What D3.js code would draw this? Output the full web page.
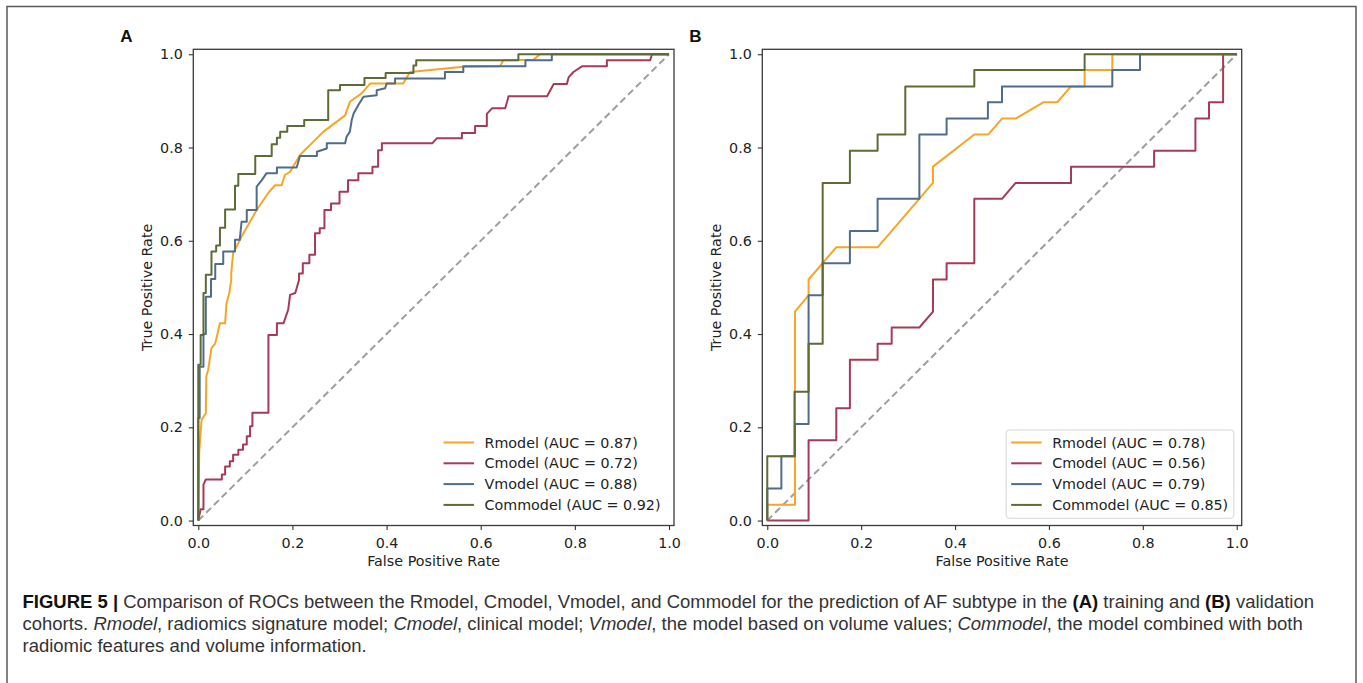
<!DOCTYPE html>
<html>
<head>
<meta charset="utf-8">
<script src="https://cdn.jsdelivr.net/npm/d3@7"></script>
<style>
  body { margin: 0; background: #fff; }
  svg { display: block; }
</style>
</head>
<body>
<div id="chart"></div>
<script>
const width = 1363, height = 683;

// ---- data: ROC corner points (fpr, tpr) ----
const modelNames = ["Rmodel", "Cmodel", "Vmodel", "Commodel"];
const modelColors = ["#f7a526", "#a63a58", "#4f6d8b", "#5d6b36"];
const aucTrain = [0.87, 0.72, 0.88, 0.92];
const aucValid = [0.78, 0.56, 0.79, 0.85];
const tickValues = [0, 0.2, 0.4, 0.6, 0.8, 1.0];

// (A) training cohort
const rTrainFpr = [0, 0.002, 0.007, 0.016, 0.017, 0.021, 0.028, 0.036, 0.046, 0.057, 0.06, 0.066, 0.07, 0.07, 0.074, 0.092, 0.124, 0.149, 0.163, 0.177, 0.184, 0.195, 0.216, 0.266, 0.312, 0.322, 0.347, 0.365, 0.435, 0.45, 0.563, 0.641, 0.648, 0.712, 0.726, 1];
const rTrainTpr = [0, 0.148, 0.216, 0.23, 0.309, 0.323, 0.37, 0.38, 0.423, 0.423, 0.466, 0.488, 0.516, 0.53, 0.573, 0.609, 0.666, 0.703, 0.719, 0.719, 0.741, 0.748, 0.784, 0.834, 0.869, 0.898, 0.916, 0.937, 0.937, 0.962, 0.973, 0.974, 0.987, 0.988, 1, 1];

const cTrainFpr = [0, 0.005, 0.011, 0.011, 0.016, 0.05, 0.05, 0.057, 0.057, 0.067, 0.067, 0.074, 0.074, 0.085, 0.085, 0.095, 0.095, 0.103, 0.103, 0.11, 0.11, 0.115, 0.115, 0.149, 0.149, 0.167, 0.167, 0.181, 0.191, 0.195, 0.206, 0.21, 0.214, 0.214, 0.222, 0.222, 0.236, 0.236, 0.248, 0.248, 0.258, 0.258, 0.268, 0.268, 0.282, 0.282, 0.3, 0.3, 0.318, 0.318, 0.34, 0.34, 0.37, 0.37, 0.382, 0.382, 0.39, 0.39, 0.497, 0.507, 0.56, 0.56, 0.588, 0.588, 0.613, 0.613, 0.624, 0.652, 0.656, 0.659, 0.741, 0.755, 0.783, 0.787, 0.797, 0.815, 0.868, 0.868, 0.96, 0.964, 1];
const cTrainTpr = [0, 0.024, 0.024, 0.077, 0.088, 0.088, 0.099, 0.099, 0.116, 0.116, 0.127, 0.127, 0.141, 0.141, 0.152, 0.152, 0.163, 0.163, 0.181, 0.181, 0.202, 0.202, 0.231, 0.231, 0.398, 0.398, 0.423, 0.423, 0.452, 0.484, 0.488, 0.502, 0.516, 0.53, 0.53, 0.552, 0.552, 0.57, 0.57, 0.616, 0.616, 0.627, 0.627, 0.666, 0.666, 0.68, 0.68, 0.705, 0.705, 0.73, 0.73, 0.745, 0.745, 0.759, 0.759, 0.794, 0.794, 0.809, 0.809, 0.82, 0.82, 0.831, 0.831, 0.846, 0.846, 0.872, 0.884, 0.884, 0.898, 0.91, 0.91, 0.936, 0.936, 0.951, 0.962, 0.974, 0.974, 0.987, 0.987, 1, 1];

const vTrainFpr = [0, 0, 0.003, 0.003, 0.011, 0.011, 0.016, 0.016, 0.027, 0.027, 0.036, 0.036, 0.053, 0.053, 0.078, 0.078, 0.088, 0.092, 0.103, 0.103, 0.124, 0.124, 0.135, 0.145, 0.167, 0.167, 0.209, 0.216, 0.252, 0.252, 0.273, 0.273, 0.312, 0.315, 0.322, 0.326, 0.33, 0.34, 0.351, 0.379, 0.379, 0.397, 0.4, 0.418, 0.418, 0.524, 0.524, 0.563, 0.563, 0.695, 0.695, 0.751, 0.751, 1];
const vTrainTpr = [0, 0.22, 0.22, 0.33, 0.33, 0.4, 0.4, 0.48, 0.48, 0.518, 0.518, 0.55, 0.55, 0.577, 0.577, 0.602, 0.602, 0.641, 0.641, 0.666, 0.666, 0.716, 0.73, 0.745, 0.745, 0.757, 0.757, 0.782, 0.782, 0.791, 0.798, 0.809, 0.809, 0.823, 0.834, 0.859, 0.873, 0.891, 0.909, 0.912, 0.923, 0.927, 0.937, 0.937, 0.948, 0.948, 0.962, 0.962, 0.974, 0.974, 0.987, 0.987, 1, 1];

const comTrainFpr = [0, 0, 0.005, 0.005, 0.011, 0.011, 0.016, 0.016, 0.028, 0.028, 0.038, 0.038, 0.046, 0.046, 0.057, 0.057, 0.078, 0.078, 0.085, 0.085, 0.121, 0.121, 0.156, 0.156, 0.167, 0.167, 0.174, 0.174, 0.189, 0.189, 0.225, 0.225, 0.276, 0.276, 0.301, 0.301, 0.353, 0.353, 0.398, 0.398, 0.457, 0.457, 0.463, 0.463, 0.68, 0.68, 1];
const comTrainTpr = [0, 0.334, 0.334, 0.398, 0.398, 0.488, 0.488, 0.527, 0.527, 0.577, 0.577, 0.59, 0.59, 0.628, 0.628, 0.667, 0.667, 0.718, 0.718, 0.743, 0.743, 0.782, 0.782, 0.807, 0.807, 0.821, 0.821, 0.834, 0.834, 0.846, 0.846, 0.859, 0.859, 0.923, 0.923, 0.934, 0.934, 0.949, 0.949, 0.96, 0.96, 0.976, 0.976, 0.987, 0.987, 1, 1];

// (B) validation cohort
const rValidFpr = [0, 0, 0.059, 0.059, 0.088, 0.088, 0.147, 0.235, 0.353, 0.353, 0.441, 0.471, 0.5, 0.529, 0.588, 0.618, 0.647, 0.676, 0.676, 0.735, 0.735, 1];
const rValidTpr = [0, 0.034, 0.034, 0.448, 0.483, 0.517, 0.586, 0.586, 0.724, 0.759, 0.828, 0.828, 0.862, 0.862, 0.897, 0.897, 0.931, 0.931, 0.966, 0.966, 1, 1];

const cValidFpr = [0, 0.088, 0.088, 0.147, 0.147, 0.176, 0.176, 0.235, 0.235, 0.265, 0.265, 0.324, 0.353, 0.353, 0.382, 0.382, 0.441, 0.441, 0.5, 0.529, 0.647, 0.647, 0.824, 0.824, 0.912, 0.912, 0.941, 0.941, 0.971, 0.971, 1];
const cValidTpr = [0, 0, 0.172, 0.172, 0.241, 0.241, 0.345, 0.345, 0.379, 0.379, 0.414, 0.414, 0.448, 0.517, 0.517, 0.552, 0.552, 0.69, 0.69, 0.724, 0.724, 0.759, 0.759, 0.793, 0.793, 0.862, 0.862, 0.897, 0.897, 1, 1];

const vValidFpr = [0, 0, 0.03, 0.03, 0.059, 0.059, 0.088, 0.088, 0.118, 0.118, 0.176, 0.176, 0.235, 0.235, 0.324, 0.324, 0.382, 0.382, 0.47, 0.47, 0.5, 0.5, 0.735, 0.735, 0.794, 0.794, 1];
const vValidTpr = [0, 0.069, 0.069, 0.138, 0.138, 0.207, 0.207, 0.483, 0.483, 0.552, 0.552, 0.621, 0.621, 0.69, 0.69, 0.828, 0.828, 0.862, 0.862, 0.897, 0.897, 0.931, 0.931, 0.966, 0.966, 1, 1];

const comValidFpr = [0, 0, 0.058, 0.058, 0.088, 0.088, 0.118, 0.118, 0.176, 0.176, 0.235, 0.235, 0.294, 0.294, 0.441, 0.441, 0.676, 0.676, 1];
const comValidTpr = [0, 0.138, 0.138, 0.276, 0.276, 0.379, 0.379, 0.724, 0.724, 0.793, 0.793, 0.828, 0.828, 0.931, 0.931, 0.966, 0.966, 1, 1];

const panels = [
    { label: "A", left: 193.3, right: 674, auc: aucTrain,
      curves: [[rTrainFpr, rTrainTpr], [cTrainFpr, cTrainTpr], [vTrainFpr, vTrainTpr], [comTrainFpr, comTrainTpr]],
      legendFrame: false },
    { label: "B", left: 762.3, right: 1241.7, auc: aucValid,
      curves: [[rValidFpr, rValidTpr], [cValidFpr, cValidTpr], [vValidFpr, vValidTpr], [comValidFpr, comValidTpr]],
      legendFrame: true }
];
const plotTop = 49.3, plotBottom = 525.5;
const pad = 0.0106; // small axis margin around [0, 1]
const fs = 14.3;    // chart text size

const svg = d3.select("#chart").append("svg")
    .attr("width", width)
    .attr("height", height);

// outer figure frame (open at the bottom, cropped)
svg.append("path")
    .attr("d", `M7,${height} V6.5 H1356 V${height}`)
    .attr("fill", "none")
    .attr("stroke", "#5a5a5a")
    .attr("stroke-width", 1.5);

const lineGen = d3.line();

panels.forEach(p => {
    const x = d3.scaleLinear().domain([-pad, 1 + pad]).range([p.left, p.right]);
    const y = d3.scaleLinear().domain([-pad, 1 + pad]).range([plotBottom, plotTop]);
    const g = svg.append("g");

    // diagonal chance line
    g.append("path")
        .attr("d", lineGen([[x(0), y(0)], [x(1), y(1)]]))
        .attr("fill", "none")
        .attr("stroke", "#9e9e9e")
        .attr("stroke-width", 2)
        .attr("stroke-dasharray", "7,4");

    // ROC curves
    p.curves.forEach((c, i) => {
        const pts = c[0].map((f, j) => [x(f), y(c[1][j])]);
        g.append("path")
            .attr("d", lineGen(pts))
            .attr("fill", "none")
            .attr("stroke", modelColors[i])
            .attr("stroke-width", 2)
            .attr("stroke-linejoin", "round");
    });

    // axes
    const xAxis = g.append("g")
        .attr("transform", `translate(0,${plotBottom})`)
        .call(d3.axisBottom(x).tickValues(tickValues).tickFormat(d3.format(".1f")).tickSize(4.5).tickPadding(8).tickSizeOuter(0));
    const yAxis = g.append("g")
        .attr("transform", `translate(${p.left},0)`)
        .call(d3.axisLeft(y).tickValues(tickValues).tickFormat(d3.format(".1f")).tickSize(4.5).tickPadding(6).tickSizeOuter(0));
    [xAxis, yAxis].forEach(a => {
        a.select(".domain").remove();
        a.selectAll("line").attr("stroke", "#333").attr("stroke-width", 1.1);
        a.selectAll("text")
            .attr("font-family", "DejaVu Sans")
            .attr("font-size", fs)
            .attr("fill", "#222");
    });

    // plot frame
    g.append("rect")
        .attr("x", p.left).attr("y", plotTop)
        .attr("width", p.right - p.left).attr("height", plotBottom - plotTop)
        .attr("fill", "none")
        .attr("stroke", "#3a3a3a")
        .attr("stroke-width", 1.3);

    // axis titles
    g.append("text")
        .attr("x", (p.left + p.right) / 2)
        .attr("y", 565.5)
        .attr("text-anchor", "middle")
        .attr("font-family", "DejaVu Sans")
        .attr("font-size", fs)
        .attr("fill", "#222")
        .text("False Positive Rate");
    g.append("text")
        .attr("transform", `translate(${p.left - 41},${(plotTop + plotBottom) / 2}) rotate(-90)`)
        .attr("text-anchor", "middle")
        .attr("font-family", "DejaVu Sans")
        .attr("font-size", fs)
        .attr("fill", "#222")
        .text("True Positive Rate");

    // panel letter
    g.append("text")
        .attr("x", p.left - 73)
        .attr("y", 42)
        .attr("font-family", "Liberation Sans")
        .attr("font-weight", "bold")
        .attr("font-size", 17)
        .attr("fill", "#111")
        .text(p.label);

    // legend
    const lx = p.right - 230.5, ly = 442.5, rowH = 20.8;
    if (p.legendFrame) {
        g.append("rect")
            .attr("x", lx - 5).attr("y", 430)
            .attr("width", 227.6).attr("height", 88.3)
            .attr("rx", 3)
            .attr("fill", "#fff")
            .attr("stroke", "#d6d6d6")
            .attr("stroke-width", 1);
    }
    modelNames.forEach((name, i) => {
        const yy = ly + i * rowH;
        g.append("line")
            .attr("x1", lx).attr("x2", lx + 30.5)
            .attr("y1", yy).attr("y2", yy)
            .attr("stroke", modelColors[i])
            .attr("stroke-width", 2);
        g.append("text")
            .attr("x", lx + 41)
            .attr("y", yy + 5)
            .attr("font-family", "DejaVu Sans")
            .attr("font-size", fs)
            .attr("fill", "#222")
            .text(`${name} (AUC = ${p.auc[i].toFixed(2)})`);
    });
});

// caption
const captionLines = [
    [["FIGURE 5 |", "b"], [" Comparison of ROCs between the Rmodel, Cmodel, Vmodel, and Commodel for the prediction of AF subtype in the ", ""],
     ["(A)", "b"], [" training and ", ""], ["(B)", "b"], [" validation", ""]],
    [["cohorts. ", ""], ["Rmodel", "i"], [", radiomics signature model; ", ""], ["Cmodel", "i"], [", clinical model; ", ""],
     ["Vmodel", "i"], [", the model based on volume values; ", ""], ["Commodel", "i"], [", the model combined with both", ""]],
    [["radiomic features and volume information.", ""]]
];
const captionTexts = captionLines.map((segs, li) => {
    const t = svg.append("text")
        .attr("x", 22.5)
        .attr("y", 608 + li * 22)
        .attr("font-family", "Liberation Sans")
        .attr("font-size", 15)
        .attr("fill", "#333");
    segs.forEach(s => {
        t.append("tspan")
            .attr("font-weight", s[1] === "b" ? "bold" : "normal")
            .attr("font-style", s[1] === "i" ? "italic" : "normal")
            .attr("fill", s[1] === "b" ? "#111" : null)
            .text(s[0]);
    });
    return t;
});
// size the caption so the first line spans the same width as in the figure
const firstLineWidth = captionTexts[0].node().getComputedTextLength();
const captionSize = 15 * 1292 / firstLineWidth;
captionTexts.forEach(t => t.attr("font-size", captionSize));
</script>
</body>
</html>
